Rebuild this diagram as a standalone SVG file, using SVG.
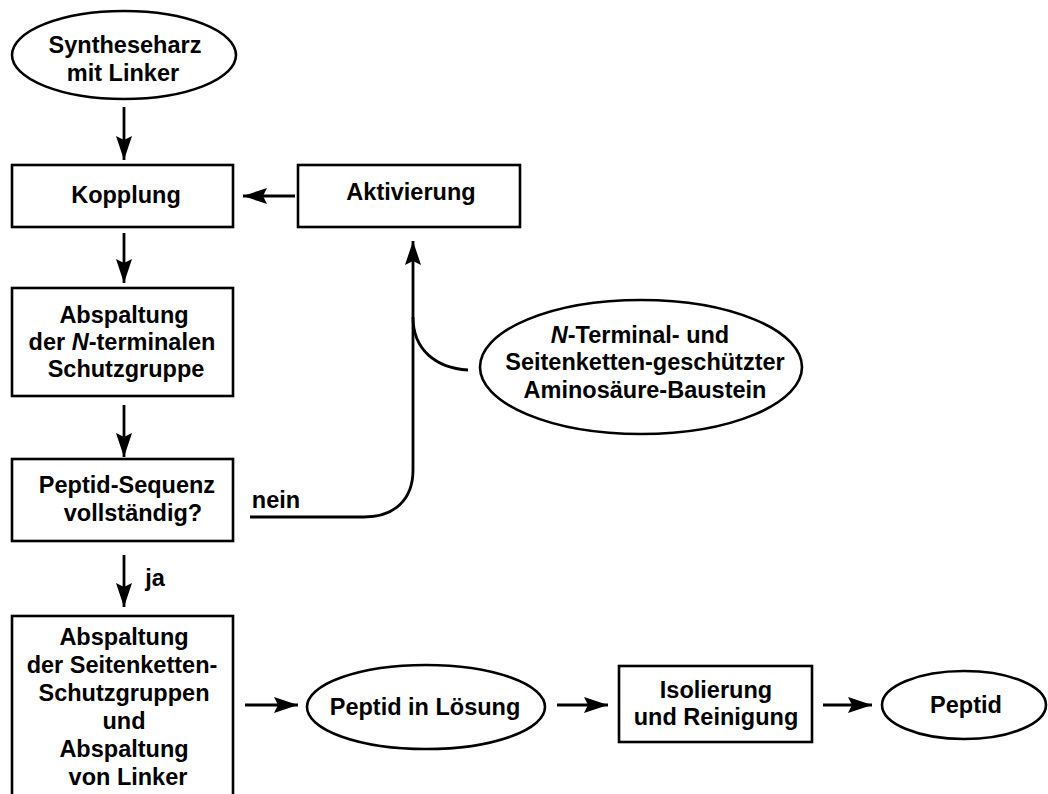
<svg xmlns="http://www.w3.org/2000/svg" width="1048" height="794" viewBox="0 0 1048 794">
<defs>
<marker id="ah" markerUnits="userSpaceOnUse" markerWidth="28" markerHeight="20" viewBox="-26 -10 28 20" refX="0" refY="0" orient="auto">
<path d="M0,0 L-24,-8 L-20,0 L-24,8 Z" fill="#000"/>
</marker>
<style>
.n{fill:#fff;stroke:#000;stroke-width:2.6}
.t{font-family:"Liberation Sans",Arial,sans-serif;font-weight:bold;font-size:23.5px;fill:#000;text-anchor:middle}
.c{fill:none;stroke:#000;stroke-width:2.8}
.a{fill:none;stroke:#000;stroke-width:2.8;marker-end:url(#ah)}
</style>
</defs>
<rect width="1048" height="794" fill="#fff"/>
<g id="connectors">
<line class="a" x1="124" y1="107" x2="124" y2="160"/>
<line class="a" x1="124" y1="233" x2="124" y2="283"/>
<line class="a" x1="124" y1="405" x2="124" y2="457"/>
<line class="a" x1="124" y1="555" x2="124" y2="607"/>
<line class="a" x1="295" y1="196" x2="243" y2="196"/>
<path class="a" d="M250,517 H364 C394,517 413,500 413,470 V241"/>
<path class="c" d="M468,370 C436,368 413,350 413,317"/>
<line class="a" x1="245" y1="705" x2="298" y2="705"/>
<line class="a" x1="557" y1="705" x2="608" y2="705"/>
<line class="a" x1="823" y1="705" x2="872" y2="705"/>
<text class="t" x="276" y="508">nein</text>
<text class="t" x="155" y="586">ja</text>
</g>
<g id="syntheseharz">
<ellipse class="n" cx="124" cy="55" rx="112" ry="44"/>
<text class="t" x="125" y="53">Syntheseharz</text>
<text class="t" x="123" y="81">mit Linker</text>
</g>
<g id="kopplung">
<rect class="n" x="12" y="165" width="221" height="62"/>
<text class="t" x="126" y="203">Kopplung</text>
</g>
<g id="aktivierung">
<rect class="n" x="298" y="165" width="222" height="62"/>
<text class="t" x="411" y="200">Aktivierung</text>
</g>
<g id="abspaltung-n">
<rect class="n" x="12" y="288" width="221" height="108"/>
<text class="t" x="124" y="323">Abspaltung</text>
<text class="t" x="122" y="350">der <tspan font-style="italic">N</tspan>-terminalen</text>
<text class="t" x="126" y="377">Schutzgruppe</text>
</g>
<g id="baustein">
<ellipse class="n" cx="641" cy="367" rx="161" ry="67"/>
<text class="t" x="640" y="343"><tspan font-style="italic">N</tspan>-Terminal- und</text>
<text class="t" x="645" y="370">Seitenketten-geschützter</text>
<text class="t" x="645" y="398">Aminosäure-Baustein</text>
</g>
<g id="sequenz">
<rect class="n" x="12" y="459" width="221" height="82"/>
<text class="t" x="127" y="493">Peptid-Sequenz</text>
<text class="t" x="133" y="521">vollständig?</text>
</g>
<g id="abspaltung-linker">
<rect class="n" x="12" y="616" width="221" height="200"/>
<text class="t" x="124" y="645">Abspaltung</text>
<text class="t" x="122" y="673">der Seitenketten-</text>
<text class="t" x="124" y="701">Schutzgruppen</text>
<text class="t" x="124" y="729">und</text>
<text class="t" x="124" y="757">Abspaltung</text>
<text class="t" x="128" y="785">von Linker</text>
</g>
<g id="loesung">
<ellipse class="n" cx="426" cy="707" rx="119" ry="42"/>
<text class="t" x="425" y="715">Peptid in Lösung</text>
</g>
<g id="isolierung">
<rect class="n" x="619" y="666" width="193" height="76"/>
<text class="t" x="716" y="698">Isolierung</text>
<text class="t" x="716" y="725">und Reinigung</text>
</g>
<g id="peptid">
<ellipse class="n" cx="964" cy="705" rx="82" ry="34"/>
<text class="t" x="966" y="713">Peptid</text>
</g>
</svg>
